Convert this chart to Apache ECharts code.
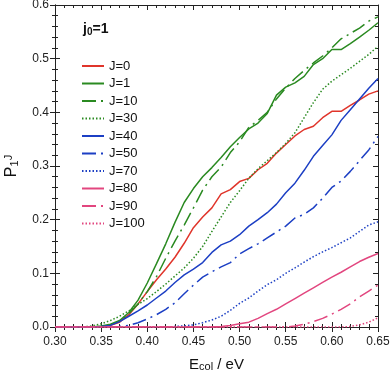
<!DOCTYPE html>
<html>
<head>
<meta charset="utf-8">
<script src="https://cdn.jsdelivr.net/npm/echarts@6/dist/echarts.min.js"></script>
<style>
    html, body { margin: 0; padding: 0; background: #fff; }
    #chart { width: 390px; height: 375px; }
</style>
</head>
<body>
<div id="chart"></div>
<script>
// collision energy grid (eV)
var energy = [0.30, 0.31, 0.32, 0.33, 0.34, 0.35, 0.36, 0.37, 0.38, 0.39,
              0.40, 0.41, 0.42, 0.43, 0.44, 0.45, 0.46, 0.47, 0.48, 0.49,
              0.50, 0.51, 0.52, 0.53, 0.54, 0.55, 0.56, 0.57, 0.58, 0.59,
              0.60, 0.61, 0.62, 0.63, 0.64, 0.65];

var pJ0 = [0, 0, 0, 0, 0, 0.001, 0.003, 0.009, 0.023, 0.043,
           0.066, 0.088, 0.108, 0.130, 0.156, 0.185, 0.205, 0.222, 0.248, 0.256,
           0.271, 0.277, 0.293, 0.305, 0.324, 0.340, 0.356, 0.368, 0.374, 0.390,
           0.402, 0.402, 0.413, 0.423, 0.434, 0.440];
var pJ1 = [0, 0, 0, 0, 0, 0.002, 0.005, 0.012, 0.027, 0.050,
           0.082, 0.118, 0.155, 0.195, 0.232, 0.258, 0.280, 0.297, 0.316, 0.336,
           0.353, 0.369, 0.380, 0.398, 0.432, 0.447, 0.455, 0.467, 0.489, 0.500,
           0.517, 0.517, 0.528, 0.540, 0.553, 0.567];
var pJ10 = [0, 0, 0, 0, 0, 0.001, 0.004, 0.011, 0.025, 0.043,
            0.066, 0.094, 0.128, 0.160, 0.190, 0.222, 0.255, 0.280, 0.298, 0.325,
            0.345, 0.372, 0.385, 0.400, 0.425, 0.445, 0.463, 0.478, 0.492, 0.505,
            0.520, 0.537, 0.547, 0.557, 0.570, 0.578];
var pJ30 = [0, 0, 0, 0, 0.002, 0.006, 0.012, 0.020, 0.030, 0.042,
            0.053, 0.066, 0.080, 0.095, 0.110, 0.128, 0.150, 0.178, 0.205, 0.232,
            0.254, 0.277, 0.295, 0.310, 0.325, 0.342, 0.362, 0.390, 0.418, 0.443,
            0.458, 0.470, 0.482, 0.495, 0.508, 0.523];
var pJ40 = [0, 0, 0, 0, 0, 0.001, 0.003, 0.010, 0.020, 0.030,
            0.041, 0.054, 0.067, 0.083, 0.097, 0.108, 0.120, 0.139, 0.153, 0.160,
            0.172, 0.188, 0.200, 0.213, 0.229, 0.250, 0.268, 0.292, 0.318, 0.338,
            0.358, 0.385, 0.405, 0.425, 0.445, 0.463];
var pJ50 = [0, 0, 0, 0, 0, 0, 0, 0.001, 0.003, 0.008,
            0.015, 0.023, 0.033, 0.045, 0.062, 0.078, 0.093, 0.103, 0.112, 0.120,
            0.136, 0.146, 0.155, 0.166, 0.177, 0.188, 0.203, 0.210, 0.222, 0.240,
            0.260, 0.272, 0.290, 0.310, 0.330, 0.355];
var pJ70 = [0, 0, 0, 0, 0, 0, 0, 0, 0, 0,
            0, 0, 0, 0.001, 0.002, 0.004, 0.008, 0.013, 0.020, 0.031,
            0.044, 0.054, 0.067, 0.079, 0.088, 0.100, 0.110, 0.121, 0.131, 0.140,
            0.148, 0.157, 0.166, 0.178, 0.190, 0.196];
var pJ80 = [0, 0, 0, 0, 0, 0, 0, 0, 0, 0,
            0, 0, 0, 0, 0, 0, 0, 0, 0.001, 0.003,
            0.006, 0.009, 0.016, 0.025, 0.033, 0.043, 0.053, 0.063, 0.073, 0.083,
            0.093, 0.102, 0.112, 0.122, 0.130, 0.137];
var pJ90 = [0, 0, 0, 0, 0, 0, 0, 0, 0, 0,
            0, 0, 0, 0, 0, 0, 0, 0, 0, 0,
            0, 0, 0, 0, 0, 0, 0.002, 0.005, 0.010, 0.016,
            0.024, 0.033, 0.043, 0.056, 0.067, 0.078];
var pJ100 = [0, 0, 0, 0, 0, 0, 0, 0, 0, 0,
             0, 0, 0, 0, 0, 0, 0, 0, 0, 0,
             0, 0, 0, 0, 0, 0, 0, 0, 0, 0,
             0, 0, 0.001, 0.004, 0.009, 0.017];

var xTicks = [0.30, 0.35, 0.40, 0.45, 0.50, 0.55, 0.60, 0.65];
var yTicks = [0.0, 0.1, 0.2, 0.3, 0.4, 0.5, 0.6];

var RED = '#e0352b', GREEN = '#2a8a21', BLUE = '#1c3fc4', PINK = '#e2467f';
var DASHDOT = [14, 5, 2, 5], DOTTED = [1.5, 2];
var FONT = 'Liberation Sans';

function pairs(vals) {
    return energy.map(function (e, i) { return [e, vals[i]]; });
}

function makeLine(name, vals, color, type) {
    return {
        name: name,
        type: 'line',
        data: pairs(vals),
        symbol: 'none',
        smooth: false,
        xAxisIndex: 0,
        yAxisIndex: 0,
        lineStyle: { color: color, width: 1.5, type: type },
        itemStyle: { color: color },
        emphasis: { disabled: true }
    };
}

var seriesList = [
    makeLine('J=0', pJ0, RED, 'solid'),
    makeLine('J=1', pJ1, GREEN, 'solid'),
    makeLine('J=10', pJ10, GREEN, DASHDOT),
    makeLine('J=30', pJ30, GREEN, DOTTED),
    makeLine('J=40', pJ40, BLUE, 'solid'),
    makeLine('J=50', pJ50, BLUE, DASHDOT),
    makeLine('J=70', pJ70, BLUE, DOTTED),
    makeLine('J=80', pJ80, PINK, 'solid'),
    makeLine('J=90', pJ90, PINK, DASHDOT),
    makeLine('J=100', pJ100, PINK, DOTTED)
];

var axisCol = '#222';

function xAx(pos, inside, labels) {
    return {
        type: 'value', position: pos,
        min: xTicks[0], max: xTicks[xTicks.length - 1], interval: 0.05,
        axisLine: { show: true, onZero: false, lineStyle: { color: axisCol, width: 1 } },
        axisTick: { show: true, inside: inside, length: 5, lineStyle: { color: axisCol } },
        minorTick: { show: true, splitNumber: 5, length: 3, lineStyle: { color: axisCol } },
        axisLabel: {
            show: labels, margin: 9, fontSize: 12, color: axisCol, fontFamily: FONT,
            formatter: function (v) { return v.toFixed(2); }
        },
        splitLine: { show: false },
        minorSplitLine: { show: false }
    };
}

function yAx(pos, inside, labels) {
    return {
        type: 'value', position: pos,
        min: yTicks[0], max: yTicks[yTicks.length - 1], interval: 0.1,
        axisLine: { show: true, onZero: false, lineStyle: { color: axisCol, width: 1 } },
        axisTick: { show: true, inside: inside, length: 5, lineStyle: { color: axisCol } },
        minorTick: { show: true, splitNumber: 5, length: 3, lineStyle: { color: axisCol } },
        axisLabel: {
            show: labels, margin: 6, fontSize: 12, color: axisCol, fontFamily: FONT,
            formatter: function (v) { return v.toFixed(1); }
        },
        splitLine: { show: false },
        minorSplitLine: { show: false }
    };
}

var xMain = xAx('bottom', false, true);
xMain.name = '{m|E}{s|col}{m| / eV}';
xMain.nameLocation = 'middle';
xMain.nameGap = 27;
xMain.nameTextStyle = {
    fontFamily: FONT, color: '#111',
    rich: {
        m: { fontSize: 15, fontFamily: FONT, color: '#111', lineHeight: 16, verticalAlign: 'top' },
        s: { fontSize: 11, fontFamily: FONT, color: '#111', lineHeight: 11, verticalAlign: 'bottom', padding: [9, 0, 0, 0] }
    }
};

var yMain = yAx('left', false, true);
yMain.name = '{m|P}{s|1}{u|J}';
yMain.nameLocation = 'middle';
yMain.nameRotate = 90;
yMain.nameGap = 35;
yMain.nameTextStyle = {
    fontFamily: FONT, color: '#111',
    rich: {
        m: { fontSize: 16, fontFamily: FONT, color: '#111', lineHeight: 17, verticalAlign: 'bottom', padding: [6, 0, 0, 0] },
        s: { fontSize: 11, fontFamily: FONT, color: '#111', lineHeight: 11, verticalAlign: 'bottom' },
        u: { fontSize: 11, fontFamily: FONT, color: '#111', lineHeight: 11, verticalAlign: 'top' }
    }
};

var chart = echarts.init(document.getElementById('chart'));
chart.setOption({
    animation: false,
    backgroundColor: '#fff',
    grid: { left: 55, right: 12, top: 5, bottom: 48, containLabel: false, outerBoundsMode: 'none' },
    xAxis: [xMain, xAx('bottom', true, false), xAx('top', true, false)],
    yAxis: [yMain, yAx('left', true, false), yAx('right', true, false)],
    legend: {
        orient: 'vertical',
        left: 76,
        top: 54,
        itemWidth: 22,
        itemHeight: 10,
        itemGap: 3.5,
        selectedMode: false,
        itemStyle: { opacity: 0 },
        textStyle: { fontSize: 13, fontFamily: FONT, color: '#111', lineHeight: 14 },
        data: seriesList.map(function (s) { return s.name; })
    },
    graphic: [{
        type: 'text',
        left: 83,
        top: 19,
        style: {
            text: '{m|j}{s|0}{m|=1}',
            rich: {
                m: { fontSize: 14, fontWeight: 'bold', fontFamily: FONT, fill: '#111', lineHeight: 15, verticalAlign: 'top' },
                s: { fontSize: 10, fontWeight: 'bold', fontFamily: FONT, fill: '#111', lineHeight: 10, verticalAlign: 'bottom', padding: [8, 0, 0, 0] }
            }
        }
    }],
    series: seriesList
});
</script>
</body>
</html>
